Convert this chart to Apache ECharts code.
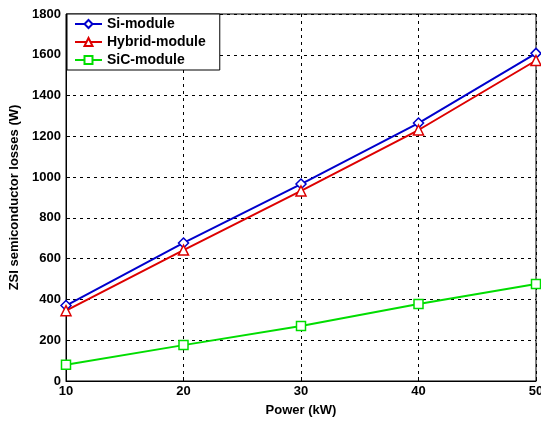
<!DOCTYPE html>
<html><head><meta charset="utf-8">
<script src="https://cdn.jsdelivr.net/npm/echarts@6/dist/echarts.min.js"></script>
<style>html,body{margin:0;padding:0;background:#fff}#c{width:541px;height:425px}</style>
</head><body><div id="c"></div>
<script>
const powers = [10, 20, 30, 40, 50];
const siModule = [370, 677, 966, 1265, 1607];
const hybridModule = [345, 642, 932, 1231, 1572];
const sicModule = [80, 176, 270, 378, 476];
const seriesNames = ['Si-module', 'Hybrid-module', 'SiC-module'];

const font = 'Liberation Sans, Arial, sans-serif';
const chart = echarts.init(document.getElementById('c'));
function mk(name, data, color, symbol, size) {
  return {
    name, type: 'line', data: powers.map((p, i) => [p, data[i]]),
    symbol, symbolSize: size, showSymbol: true,
    itemStyle: { color: '#fff', borderColor: color, borderWidth: 1.5 },
    lineStyle: { color, width: 2 },
    emphasis: { disabled: true }, animation: false
  };
}
chart.setOption({
  animation: false,
  grid: { left: 66, right: 5, top: 14, bottom: 44, outerBoundsMode: 'none', containLabel: false,
    show: true, borderColor: '#000', borderWidth: 1, backgroundColor: '#fff' },
  legend: {
    left: 67, top: 14, orient: 'vertical', itemGap: 4, itemWidth: 27, itemHeight: 10,
    padding: [3, 14, 3, 7], backgroundColor: '#fff', borderColor: '#000', borderWidth: 1,
    textStyle: { fontFamily: font, fontWeight: 'bold', fontSize: 14, lineHeight: 14, color: '#000' },
    data: seriesNames
  },
  xAxis: {
    type: 'value', min: 10, max: 50, interval: 10,
    name: 'Power (kW)', nameLocation: 'middle', nameGap: 23,
    nameTextStyle: { fontFamily: font, fontWeight: 'bold', fontSize: 13, color: '#000' },
    axisLine: { show: true, onZero: false, lineStyle: { color: '#000' } },
    axisTick: { show: true, inside: true, length: 4, lineStyle: { color: '#000' } },
    axisLabel: { fontFamily: font, fontWeight: 'bold', fontSize: 13, color: '#000', margin: 4 },
    splitLine: { show: true, lineStyle: { color: '#000', type: [3, 4], width: 1 } }
  },
  yAxis: {
    type: 'value', min: 0, max: 1800, interval: 200,
    name: 'ZSI semiconductor losses (W)', nameLocation: 'middle', nameGap: 45,
    nameTextStyle: { fontFamily: font, fontWeight: 'bold', fontSize: 13, color: '#000' },
    axisLine: { show: true, lineStyle: { color: '#000' } },
    axisTick: { show: true, inside: true, length: 4, lineStyle: { color: '#000' } },
    axisLabel: { fontFamily: font, fontWeight: 'bold', fontSize: 13, color: '#000', margin: 5,
      formatter: v => String(v) },
    splitLine: { show: true, lineStyle: { color: '#000', type: [3, 4], width: 1 } }
  },
  series: [
    mk(seriesNames[0], siModule, '#0000cc', 'diamond', 10),
    mk(seriesNames[1], hybridModule, '#dd0000', 'triangle', 10),
    mk(seriesNames[2], sicModule, '#00dd00', 'rect', 9)
  ]
});
</script></body></html>
